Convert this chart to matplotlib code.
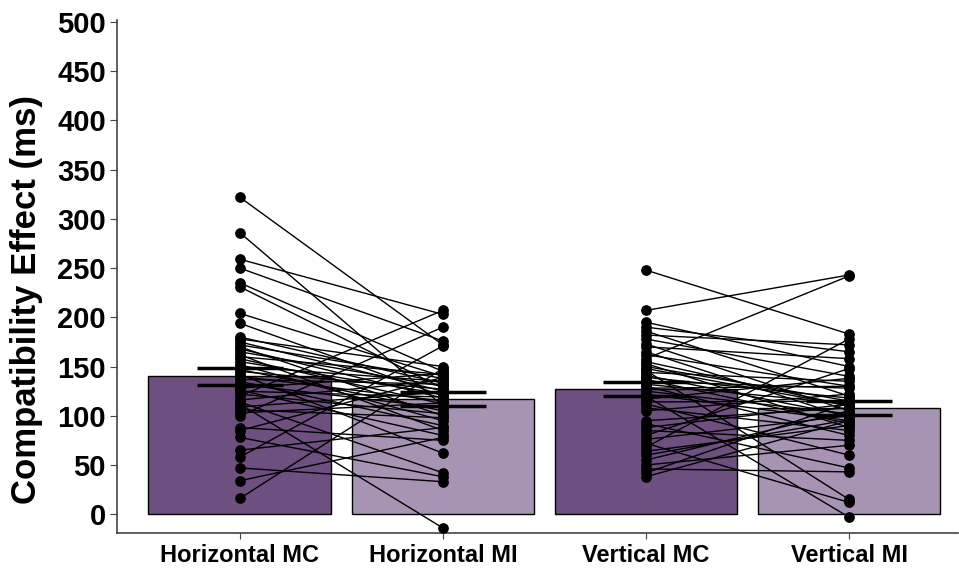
import numpy as np
import matplotlib
matplotlib.use('Agg')
import matplotlib.pyplot as plt

plt.rcParams['font.family'] = ['Liberation Sans', 'DejaVu Sans']

conditions = ['Horizontal MC', 'Horizontal MI', 'Vertical MC', 'Vertical MI']
means = [140, 117, 127, 108]
sems = [8.7, 7.0, 7.3, 7.1]
bar_colors = ['#6d5080', '#a794b4', '#6d5080', '#a794b4']

# individual participants, paired MC -> MI
horiz_mc = [322, 286, 259, 250, 235, 231, 204, 194, 180, 178, 175, 172, 170, 168, 165, 162,
            160, 158, 155, 152, 150, 147, 145, 142, 140, 137, 135, 132, 128, 126, 125, 122,
            120, 116, 114, 112, 109, 106, 103, 100, 88, 85, 78, 65, 58, 47, 34, 16]
horiz_mi = [172, 110, 203, 176, 145, 128, 140, 120, 133, 150, 125, 138, 100, 118, 130, 85,
            142, 112, 122, 95, 135, 105, 127, 62, 115, 132, 90, 108, 143, 80, 119, 102,
            207, 136, 42, -14, 124, 98, 113, 190, 75, 139, 38, 88, 171, 33, 78, 148]
vert_mc = [248, 207, 195, 190, 186, 182, 178, 173, 170, 165, 162, 158, 155, 153, 150, 148,
           146, 144, 141, 139, 137, 135, 132, 130, 128, 125, 122, 120, 117, 114, 112, 108,
           105, 95, 92, 88, 85, 80, 76, 72, 68, 64, 60, 55, 50, 46, 42, 38]
vert_mi = [183, 243, 150, 165, 120, 172, 140, 105, 158, 98, 130, 242, 110, 88, 115, 110,
           15, 135, 100, 118, 92, 128, 112, 80, 130, 102, 95, -3, 138, 115, 60, 85,
           122, 108, 47, 112, 75, 148, 100, 12, 178, 90, 96, 105, 70, 43, 113, 95]

x = np.arange(len(conditions))

fig = plt.figure(figsize=(9.59, 5.73), dpi=100)
ax = fig.add_axes([0.122, 0.07, 0.877, 0.895])

ax.bar(x, means, width=0.9, color=bar_colors, edgecolor='black', linewidth=1, zorder=1)

for i0, mc, mi in [(0, horiz_mc, horiz_mi), (2, vert_mc, vert_mi)]:
    for a, b in zip(mc, mi):
        ax.plot([x[i0], x[i0 + 1]], [a, b], color='black', linewidth=1.0, zorder=2)
    ax.scatter(np.full(len(mc), x[i0]), mc, s=45, color='black', zorder=4)
    ax.scatter(np.full(len(mi), x[i0 + 1]), mi, s=45, color='black', zorder=4)

ax.errorbar(x, means, yerr=sems, fmt='none', ecolor='black', elinewidth=2.5,
            capsize=31, capthick=2.5, zorder=3)

ax.set_xlim(-0.605, 3.537)
ax.set_ylim(-19, 502)
ax.set_yticks(np.arange(0, 501, 50))
ax.set_xticks(x)
ax.set_xticklabels(conditions, fontsize=17, fontweight='bold')
ax.tick_params(axis='y', labelsize=21, length=5, color='#444444', pad=3)
ax.tick_params(axis='x', length=4, color='#444444', pad=4)
for lab in ax.get_yticklabels():
    lab.set_fontweight('bold')
ax.set_ylabel('Compatibility Effect (ms)', fontsize=25, fontweight='bold')
ax.yaxis.set_label_coords(-0.088, 0.455)

for s in ['top', 'right']:
    ax.spines[s].set_visible(False)
for s in ['left', 'bottom']:
    ax.spines[s].set_color('#444444')
    ax.spines[s].set_linewidth(1.2)

fig.savefig('out.png', dpi=100)
